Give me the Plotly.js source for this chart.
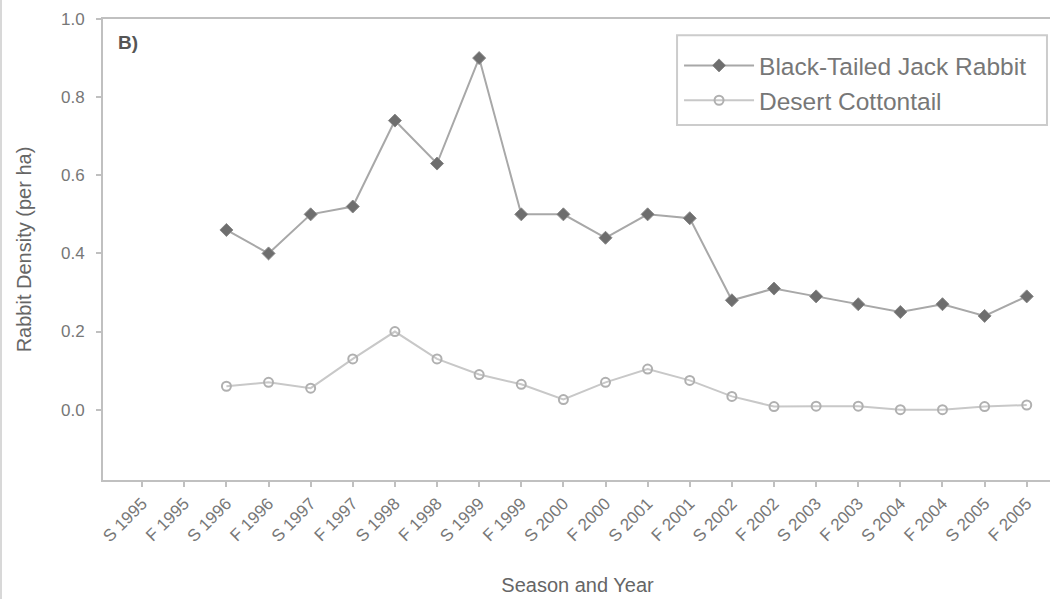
<!DOCTYPE html>
<html>
<head>
<meta charset="utf-8">
<script src="https://cdn.plot.ly/plotly-3.0.1.min.js"></script>
<style>
  html, body { margin: 0; padding: 0; background: #fff; }
  #chart { width: 1050px; height: 599px; box-sizing: border-box; border-left: 2px solid #d8d8d8; }
</style>
</head>
<body>
<div id="chart"></div>
<script>
// Category tick labels (season + year)
const seasons = ["S","F"];
const years = [1995,1996,1997,1998,1999,2000,2001,2002,2003,2004,2005];
const categories = [];
years.forEach(y => seasons.forEach(s => categories.push(s + " " + y)));

// Data begin at the third category
const dataCategories = categories.slice(2);

const jackRabbit = [0.46,0.40,0.50,0.52,0.74,0.63,0.90,0.50,0.50,0.44,0.50,0.49,0.28,0.31,0.29,0.27,0.25,0.27,0.24,0.29];
const cottontail = [0.06,0.07,0.055,0.13,0.20,0.13,0.09,0.065,0.026,0.07,0.104,0.075,0.034,0.008,0.009,0.009,0.0,0.0,0.008,0.012];

const yTicks = [0.0,0.2,0.4,0.6,0.8,1.0];
const yTickText = ["0.0","0.2","0.4","0.6","0.8","1.0"];

const traces = [
  {
    x: dataCategories, y: jackRabbit, type: "scatter", mode: "lines+markers",
    name: "Black-Tailed Jack Rabbit", legendgroup: "a",
    line: { color: "#a8a8a8", width: 2 },
    marker: { symbol: "diamond", size: 10, color: "#6e6e6e", line: { color: "#8a8a8a", width: 1 } }
  },
  {
    x: dataCategories, y: cottontail, type: "scatter", mode: "lines+markers",
    name: "Desert Cottontail", legendgroup: "b",
    line: { color: "#c8c8c8", width: 2 },
    marker: { symbol: "circle-open", size: 9, color: "#b0b0b0", line: { color: "#b0b0b0", width: 2 } }
  }
];

const layout = {
  width: 1050, height: 599,
  margin: { l: 101, r: 0, t: 19, b: 119 },
  paper_bgcolor: "#fff", plot_bgcolor: "#fff",
  font: { family: "Arial, Liberation Sans, sans-serif", color: "#666", size: 17 },
  showlegend: true,
  legend: {
    x: 0.607, y: 0.948, xanchor: "left", yanchor: "top",
    bgcolor: "rgba(0,0,0,0)", borderwidth: 0,
    font: { size: 24.5, color: "#777" },
    itemwidth: 70, tracegroupgap: 0, traceorder: "normal"
  },
  shapes: [
    { type: "rect", xref: "paper", yref: "paper", x0: 0.6049, x1: 0.9947, y0: 0.770, y1: 0.965,
      line: { color: "#cccccc", width: 2 }, fillcolor: "rgba(0,0,0,0)", layer: "below" }
  ],
  xaxis: {
    type: "category", categoryorder: "array", categoryarray: categories,
    range: [-0.93, 21.6],
    showline: true, linecolor: "#c0c0c0", linewidth: 2, mirror: true,
    ticks: "outside", ticklen: 5, tickcolor: "#c0c0c0", tickwidth: 2,
    tickangle: -45, tickfont: { size: 17, color: "#777" },
    showgrid: false, zeroline: false, automargin: false,
    title: { text: "Season and Year", font: { size: 20, color: "#666" }, standoff: 33 }
  },
  yaxis: {
    range: [-0.18, 1.0],
    tickvals: yTicks, ticktext: yTickText,
    showline: true, linecolor: "#c0c0c0", linewidth: 2,
    ticks: "outside", ticklen: 5, tickcolor: "#c0c0c0", tickwidth: 2,
    ticklabelstandoff: 8,
    tickfont: { size: 17, color: "#777" },
    showgrid: false, zeroline: false, automargin: false,
    title: { text: "Rabbit Density (per ha)", font: { size: 20, color: "#666" }, standoff: 24 }
  },
  annotations: [
    { text: "<b>B)</b>", xref: "paper", yref: "paper", x: 0.014, y: 0.976,
      xanchor: "left", yanchor: "top", showarrow: false,
      font: { size: 19, color: "#555" } }
  ]
};

Plotly.newPlot("chart", traces, layout, { displayModeBar: false, staticPlot: true });
</script>
</body>
</html>
